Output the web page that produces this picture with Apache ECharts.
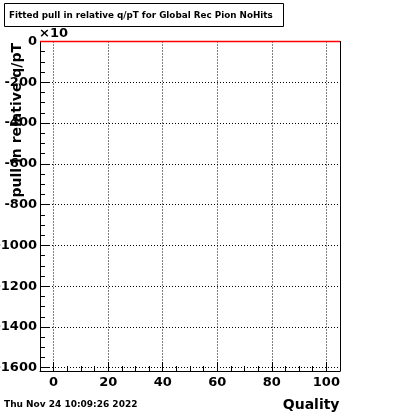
<!DOCTYPE html>
<html>
<head>
<meta charset="utf-8">
<script src="https://cdn.jsdelivr.net/npm/echarts@6/dist/echarts.min.js"></script>
<style>html,body{margin:0;padding:0;background:#fff;}#c{width:400px;height:414px;}</style>
</head>
<body>
<div id="c"></div>
<script>
// Data (histogram is empty: all bins at 0)
var xRange = [-5, 105];
var yRange = [-1616, 0];
var histX = [-5, 105];
var histY = [0, 0];
var titleText = 'Fitted pull in relative q/pT for Global Rec Pion NoHits';
var xTitle = 'Quality';
var yTitle = 'pull in relative q/pT';
var dateText = 'Thu Nov 24 10:09:26 2022';
var expText = '\u00d710';

var FONT = 'DejaVu Sans';
var chart = echarts.init(document.getElementById('c'), null, {renderer: 'canvas'});
var histData = histX.map(function (x, i) { return [x, histY[i]]; });
function fmt(v) { return String(Math.round(v)); }

chart.setOption({
  animation: false,
  backgroundColor: '#fff',
  grid: {left: 40, right: 60, top: 41.5, bottom: 43, show: false, containLabel: false, outerBoundsMode: 'none'},
  xAxis: {
    type: 'value', min: xRange[0], max: xRange[1], splitNumber: 5,
    axisLine: {show: true, onZero: false, lineStyle: {color: '#000', width: 1}},
    axisTick: {show: true, inside: true, length: 9, lineStyle: {color: '#000'}},
    minorTick: {show: true, splitNumber: 4, length: 5, lineStyle: {color: '#000'}},
    splitLine: {show: true, lineStyle: {color: '#000', type: [1, 2], width: 1}},
    axisLabel: {show: true, showMinLabel: false, showMaxLabel: false, margin: 5, color: '#000', fontFamily: FONT, fontWeight: 'bold', fontSize: 13, formatter: fmt}
  },
  yAxis: [{
    type: 'value', min: yRange[0], max: yRange[1], splitNumber: 8,
    axisLine: {show: true, onZero: false, lineStyle: {color: '#000', width: 1}},
    axisTick: {show: true, inside: true, length: 9, lineStyle: {color: '#000'}},
    minorTick: {show: true, splitNumber: 4, length: 5, lineStyle: {color: '#000'}},
    splitLine: {show: true, lineStyle: {color: '#000', type: [1, 2], width: 1}},
    axisLabel: {show: true, showMinLabel: false, margin: 3, color: '#000', fontFamily: FONT, fontWeight: 'bold', fontSize: 13, formatter: fmt}
  }, {
    type: 'value', position: 'right', min: yRange[0], max: yRange[1], splitNumber: 8,
    axisLine: {show: true, onZero: false, lineStyle: {color: '#000', width: 1}},
    axisTick: {show: false}, axisLabel: {show: false}, splitLine: {show: false}
  }],
  series: [{
    type: 'line', data: histData, symbol: 'none', clip: false, yAxisIndex: 0,
    lineStyle: {color: '#ff0000', width: 1.6, opacity: 1}, itemStyle: {color: '#ff0000'}, z: 100, zlevel: 1
  }],
  graphic: [
    {type: 'rect', shape: {x: 4.5, y: 3.5, width: 279, height: 23}, style: {fill: '#fff', stroke: '#000', lineWidth: 1}},
    {type: 'text', x: 9, y: 15.5, style: {text: titleText, font: 'bold 8.8px "DejaVu Sans"', fill: '#000', textAlign: 'left', textVerticalAlign: 'middle'}},
    {type: 'text', x: 39, y: 34, style: {text: expText, font: 'bold 13px "DejaVu Sans"', fill: '#000', textAlign: 'left', textVerticalAlign: 'middle'}},
    {type: 'text', x: 339.5, y: 405, style: {text: xTitle, font: 'bold 14px "DejaVu Sans"', fill: '#000', textAlign: 'right', textVerticalAlign: 'middle'}},
    {type: 'text', x: 4, y: 405, style: {text: dateText, font: 'bold 9px "DejaVu Sans"', fill: '#000', textAlign: 'left', textVerticalAlign: 'middle'}},
    {type: 'text', x: 17, y: 43, rotation: Math.PI / 2, style: {text: yTitle, font: 'bold 14px "DejaVu Sans"', fill: '#000', textAlign: 'right', textVerticalAlign: 'middle'}}
  ]
});
</script>
</body>
</html>
